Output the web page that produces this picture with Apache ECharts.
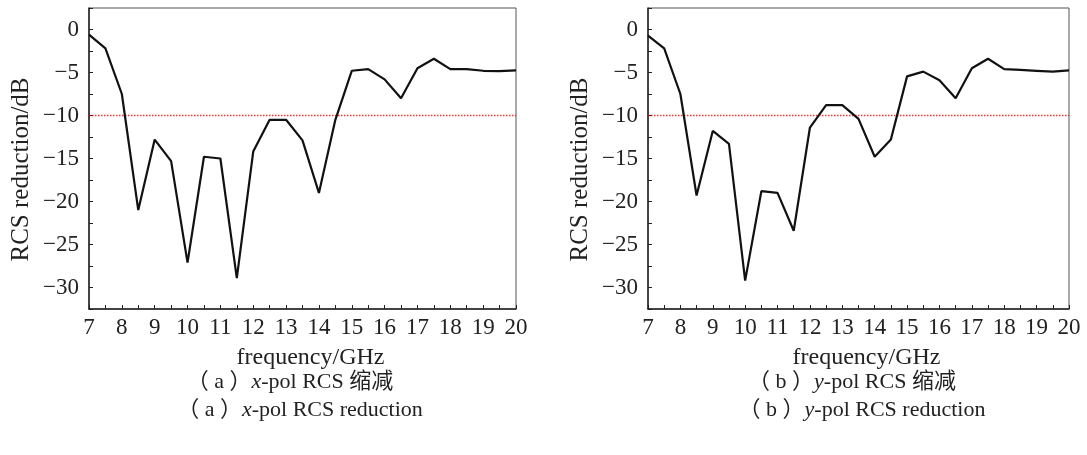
<!DOCTYPE html>
<html>
<head>
<meta charset="utf-8">
<script src="https://cdn.jsdelivr.net/npm/echarts@6/dist/echarts.min.js"></script>
<style>
html,body{margin:0;padding:0;background:#fff;}
#chart{width:1087px;height:455px;}
</style>
</head>
<body>
<div id="chart"></div>
<script>
// frequency points (GHz)
var freq = [7,7.5,8,8.5,9,9.5,10,10.5,11,11.5,12,12.5,13,13.5,14,14.5,15,15.5,16,16.5,17,17.5,18,18.5,19,19.5,20];
// x-pol RCS reduction (dB)
var xpol = [-0.6,-2.2,-7.5,-21.0,-12.8,-15.3,-27.1,-14.8,-15.0,-28.9,-14.2,-10.5,-10.5,-12.9,-19.0,-10.5,-4.8,-4.6,-5.8,-8.0,-4.5,-3.4,-4.6,-4.6,-4.8,-4.85,-4.75];
// y-pol RCS reduction (dB)
var ypol = [-0.7,-2.2,-7.5,-19.3,-11.8,-13.3,-29.2,-18.8,-19.0,-23.4,-11.4,-8.8,-8.8,-10.4,-14.8,-12.8,-5.45,-4.9,-5.9,-8.0,-4.5,-3.4,-4.6,-4.7,-4.8,-4.9,-4.75];
// -10 dB reference line, spanning the band
var threshold = -10;
var bandEdges = [7, 20];
var yLabels = [0,-5,-10,-15,-20,-25,-30];
var yTicks = [2.5,0,-2.5,-5,-7.5,-10,-12.5,-15,-17.5,-20,-22.5,-25,-27.5,-30,-32.5];

var serif = '"Liberation Serif","Times New Roman","Noto Sans CJK SC",serif';

function pair(xs, ys){
	var out = [];
	for(var i=0;i<xs.length;i++){
		out.push([xs[i], ys[i]]);
	}
	return out;
}

function xAxisOf(idx){
	return {
		gridIndex: idx, type: 'value', min: 7, max: 20, interval: 1,
		name: 'frequency/GHz', nameLocation: 'middle', nameGap: 37,
		nameTextStyle: {fontFamily: serif, fontSize: 24, color: '#222', padding: [0, 0, 0, 16]},
		axisLine: {show: true, onZero: false, lineStyle: {color: '#222', width: 1.5}},
		axisTick: {inside: true, length: 4, lineStyle: {color: '#222'}},
		minorTick: {show: true, splitNumber: 2, length: 4, lineStyle: {color: '#222'}},
		axisLabel: {fontFamily: serif, fontSize: 23, color: '#222', margin: 7},
		splitLine: {show: false}
	};
}
function yAxisOf(idx){
	return {
		gridIndex: idx, type: 'value', min: -32.5, max: 2.5,
		name: 'RCS reduction/dB', nameLocation: 'middle', nameGap: 55,
		nameTextStyle: {fontFamily: serif, fontSize: 25, color: '#222', padding: [0, 22, 0, 0]},
		axisLine: {show: true, onZero: false, lineStyle: {color: '#222', width: 1.5}},
		axisTick: {inside: true, length: 4, customValues: yTicks, lineStyle: {color: '#222'}},
		axisLabel: {fontFamily: serif, fontSize: 23, color: '#222', margin: 10, customValues: yLabels,
			formatter: function(v){ return v < 0 ? '\u2212' + Math.abs(v) : '' + v; }},
		splitLine: {show: false}
	};
}
function lineOf(idx, data){
	return {
		type: 'line', xAxisIndex: idx, yAxisIndex: idx, data: pair(freq, data), z: 3,
		symbol: 'none', lineStyle: {color: '#111', width: 2.2}
	};
}
function refOf(idx){
	return {
		type: 'line', xAxisIndex: idx, yAxisIndex: idx, z: 2, silent: true,
		data: [[bandEdges[0], threshold], [bandEdges[1], threshold]],
		symbol: 'none', lineStyle: {color: '#ff0000', width: 1.3, type: [1.5, 1.5], opacity: 0.8}
	};
}
function caption(x, y, txt){
	return {type: 'text', x: x, y: y, style: {text: txt, align: 'center', verticalAlign: 'middle',
		font: '22px ' + serif, fill: '#222', rich: {i: {fontStyle: 'italic', fontFamily: serif, fontSize: 22}}}};
}

var chart = echarts.init(document.getElementById('chart'));
chart.setOption({
	animation: false,
	backgroundColor: '#fff',
	grid: [
		{left: 89, top: 8, width: 427, height: 301, show: true, borderColor: '#555', borderWidth: 1},
		{left: 648, top: 8, width: 421, height: 301, show: true, borderColor: '#555', borderWidth: 1}
	],
	xAxis: [xAxisOf(0), xAxisOf(1)],
	yAxis: [yAxisOf(0), yAxisOf(1)],
	series: [refOf(0), refOf(1), lineOf(0, xpol), lineOf(1, ypol)],
	graphic: [
		caption(290, 382, '（ a ）{i|x}-pol RCS 缩减'),
		caption(300, 410, '（ a ）{i|x}-pol RCS reduction'),
		caption(852, 382, '（ b ）{i|y}-pol RCS 缩减'),
		caption(862, 410, '（ b ）{i|y}-pol RCS reduction')
	]
});
</script>
</body>
</html>
